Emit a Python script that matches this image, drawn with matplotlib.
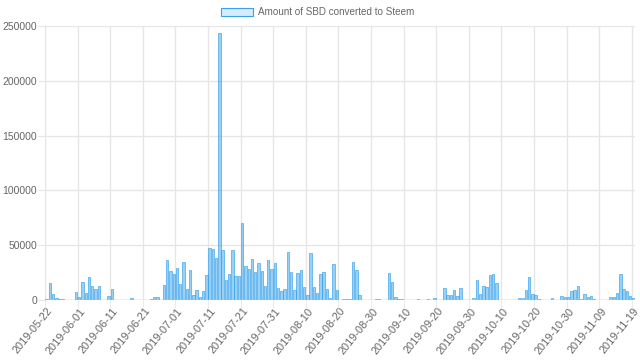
import datetime as dt
import matplotlib
matplotlib.use("Agg")
import matplotlib.pyplot as plt
from matplotlib.patches import Rectangle
import numpy as np

plt.rcParams['font.family'] = ['Liberation Sans', 'DejaVu Sans']

# daily amounts (thousands of SBD), 2019-05-22 .. 2019-11-19 (one day missing)
amounts_k = [
    1.2, 15.9, 5.5, 2.1, 1.5, 1.5, 0.3, 0, 0, 7.6,
    3.0, 17.0, 6.4, 21.4, 13.4, 10.7, 13.1, 0.3, 0, 4.0,
    10.4, 0.3, 0, 0, 0, 0, 2.1, 0, 0, 0,
    0, 0, 1.0, 3.0, 3.4, 0, 13.8, 36.5, 26.5, 24.0,
    29.0, 14.8, 35.0, 10.2, 27.2, 5.2, 9.5, 3.4, 8.2, 23.3,
    47.8, 46.3, 38.3, 243.5, 45.6, 18.3, 24.0, 45.8, 22.0, 22.3,
    70.3, 30.8, 28.7, 37.6, 25.9, 34.0, 26.5, 13.1, 36.9, 28.7,
    33.8, 11.3, 8.8, 10.2, 43.9, 25.6, 9.0, 24.8, 28.0, 12.3,
    5.2, 43.0, 12.2, 6.7, 23.8, 25.6, 10.0, 2.1, 33.1, 9.2,
    0, 0.8, 0.8, 1.1, 34.7, 27.2, 5.2, 0, 0, 0,
    0, 0.8, 0.8, 0, 0, 24.4, 16.5, 3.0, 1.2, 0.8,
    0.6, 0.6, 0.6, 0.6, 1.4, 0.6, 0.6, 0.8, 0, 1.9,
    0, 0.6, 11.0, 4.6, 4.6, 9.2, 4.2, 11.0, 0.6, 0.3,
    0.3, 1.9, 18.3, 5.8, 12.6, 12.3, 22.6, 24.1, 15.9, 0,
    0, 0, 0, 0, 0, 1.8, 1.8, 9.5, 21.2, 5.8,
    5.2, 1.0, 0, 0, 0, 2.1, 0, 0, 3.7, 3.0,
    3.0, 8.9, 9.5, 12.8, 1.5, 5.5, 3.0, 4.0, 1.2, 0,
    0.3, 0.3, 0.3, 3.0, 3.0, 6.7, 24.1, 10.4, 8.2, 4.0,
    1.8,
]
amounts = [v * 1000 for v in amounts_k]

start = dt.date(2019, 5, 22)
missing_day = dt.date(2019, 9, 5)
dates = []
d = start
while d <= dt.date(2019, 11, 19):
    if d != missing_day:
        dates.append(d.strftime('%Y-%m-%d'))
    d += dt.timedelta(days=1)

label_every = 10
y_ticks = [0, 50000, 100000, 150000, 200000, 250000]
series_label = 'Amount of SBD converted to Steem'

blue = (54/255, 162/255, 235/255)
grid_c = '#e6e6e6'
text_c = '#666666'

fig = plt.figure(figsize=(6.4, 3.61), dpi=100)
ax = fig.add_axes([45/640, 1 - 300.3/361, 590/640, (300.3 - 25.7)/361])

x = np.arange(len(amounts))
ax.bar(x, amounts, width=0.74, color=(*blue, 0.5), edgecolor=(*blue, 0.9), linewidth=0.5, zorder=3)

ax.set_xlim(-0.5, len(amounts) - 0.5)
ax.set_ylim(0, 250000)

ax.set_yticks(y_ticks)
ax.set_yticklabels([str(v) for v in y_ticks])
ax.grid(axis='y', color=grid_c, linewidth=1)
ax.tick_params(axis='y', length=5, color=grid_c, labelsize=7.5, labelcolor=text_c, pad=0.8)

pos = list(range(0, len(amounts), label_every))
ax.set_xticks(pos)
ax.set_xticklabels([dates[p] for p in pos], rotation=51, ha='right', rotation_mode='anchor')
ax.tick_params(axis='x', which='major', length=0, labelsize=7.9, labelcolor=text_c, pad=4)
ax.set_xticks([p - 0.5 for p in pos], minor=True)
ax.tick_params(axis='x', which='minor', length=6, color=grid_c)
ax.grid(axis='x', which='minor', color=grid_c, linewidth=1)
ax.set_axisbelow(True)

for s in ['top', 'right', 'bottom']:
    ax.spines[s].set_visible(False)
ax.spines['left'].set_color(grid_c)
ax.axhline(0, color='#c0c0c0', linewidth=1, zorder=4)

# legend like chart.js
fig.patches.append(Rectangle((220.7/640, 1 - 16/361), 32.6/640, 7.7/361, transform=fig.transFigure,
                             facecolor=(*blue, 0.2), edgecolor=blue, linewidth=0.8))
fig.text(258.3/640, 1 - 12/361, series_label, fontsize=7.1, color=text_c, va='center', ha='left')

fig.savefig('out.png', dpi=100)
